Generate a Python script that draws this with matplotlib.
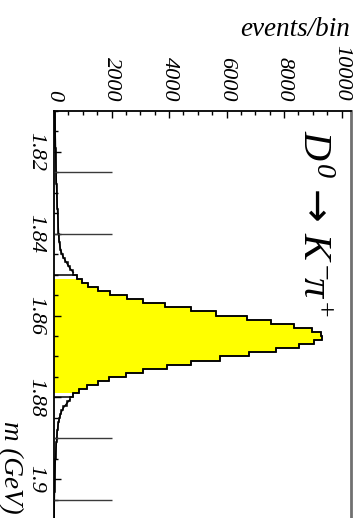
import numpy as np
import matplotlib
matplotlib.use("Agg")
import matplotlib.pyplot as plt
from matplotlib.ticker import MultipleLocator, FixedLocator

# ---------------- data ----------------
mass_lo = 1.81          # lower edge of first bin (GeV)
bin_width = 0.001       # GeV
counts = [
    35, 37, 39, 41, 43, 45, 47, 50, 52, 55,
    58, 61, 64, 67, 71, 75, 79, 83, 88, 93,
    98, 104, 110, 116, 123, 130, 137, 144, 150, 156,
    162, 175, 192, 218, 255, 305, 385, 470, 557, 672,
    789, 962, 1194, 1542, 1948, 2528, 3107, 3861, 4750, 5650,
    6700, 7560, 8360, 8970, 9290, 9310, 9050, 8520, 7720, 6790,
    5780, 4760, 3920, 3107, 2504, 1925, 1519, 1136, 881, 672,
    557, 441, 330, 260, 210, 175, 148, 128, 112, 100,
    90, 80, 70, 62, 54, 47, 41, 36, 31, 27,
    24, 21, 18, 16, 14, 12, 11, 10, 9, 9,
    8, 8, 7, 7, 6, 6, 6, 5, 5, 5,
]
signal_window = (1.851, 1.879)
sideband_edges = [1.825, 1.840, 1.890, 1.905]
sideband_marker_len = 2000
count_ticks = [0, 2000, 4000, 6000, 8000, 10000]
count_tick_labels = ["0", "2000", "4000", "6000", "8000", "10000"]
mass_ticks = [1.82, 1.84, 1.86, 1.88, 1.90]
mass_tick_labels = ["1.82", "1.84", "1.86", "1.88", "1.9"]
mass_range = (1.81, 1.92)
count_max = 10330

# ---------------- plotting ----------------
plt.rcParams["font.family"] = ["Liberation Serif", "DejaVu Serif"]
plt.rcParams["font.style"] = "italic"
plt.rcParams["mathtext.fontset"] = "custom"
plt.rcParams["mathtext.rm"] = "Liberation Serif"
plt.rcParams["mathtext.it"] = "Liberation Serif:italic"
plt.rcParams["mathtext.sf"] = "DejaVu Sans"
plt.rcParams["mathtext.fallback"] = "cm"

W, H = 360, 518
fig = plt.figure(figsize=(W / 100, H / 100), dpi=100)
ax_top, ax_bot = 110.75, 561.2
ax = fig.add_axes([54 / W, 1 - ax_bot / H, 297 / W, (ax_bot - ax_top) / H])

counts = np.asarray(counts, dtype=float)
edges = mass_lo + bin_width * np.arange(len(counts) + 1)
centers = 0.5 * (edges[:-1] + edges[1:])

i_lo = int(round((signal_window[0] - mass_lo) / bin_width))
i_hi = int(round((signal_window[1] - mass_lo) / bin_width))

# filled signal region
ax.stairs(counts[i_lo:i_hi], edges[i_lo:i_hi + 1], orientation="horizontal",
          fill=True, color="#ffff00", baseline=0, zorder=1)
# boxed outline around signal region (one extra bin each side)
ax.stairs(counts[i_lo - 1:i_hi + 1], edges[i_lo - 1:i_hi + 2], orientation="horizontal",
          baseline=0, color="black", lw=1.1, zorder=3)
# full histogram outline
ax.stairs(counts, edges, orientation="horizontal", baseline=None,
          color="black", lw=1.1, zorder=3)
# fit-like curve in the tails
tail = np.where((centers > signal_window[0] - bin_width) & (centers < signal_window[1] + bin_width),
                np.nan, counts)
ax.plot(tail, centers, color="black", lw=1.0, zorder=3)
# sideband markers
ax.hlines(sideband_edges, 0, sideband_marker_len, colors="#3a3a3a", lw=1.0, zorder=4)

ax.set_ylim(mass_range[1], mass_range[0])
ax.set_xlim(0, count_max)

ax.xaxis.set_major_locator(FixedLocator(count_ticks))
ax.set_xticklabels(count_tick_labels)
ax.xaxis.set_minor_locator(MultipleLocator(500))
ax.yaxis.set_major_locator(FixedLocator(mass_ticks))
ax.set_yticklabels(mass_tick_labels)
ax.yaxis.set_minor_locator(MultipleLocator(0.005))

ax.tick_params(axis="x", which="both", direction="in", top=True, bottom=False,
               labeltop=True, labelbottom=False, labelrotation=-90, labelsize=16, pad=7)
ax.tick_params(axis="y", which="both", direction="in", left=True, right=False,
               labelleft=True, labelrotation=-90, labelsize=16, pad=6.5)
ax.tick_params(which="major", length=5, width=1)
ax.tick_params(which="minor", length=3, width=1)
for lbl in ax.get_yticklabels():
    lbl.set_va("center")

for s in ("left", "top"):
    ax.spines[s].set_color("black")
    ax.spines[s].set_linewidth(1.3)
ax.spines["right"].set_color("#707070")
ax.spines["right"].set_linewidth(2.0)
ax.spines["bottom"].set_visible(False)

fig.text(350 / W, 1 - 36 / H, "events/bin", ha="right", va="baseline", fontsize=19.5)
fig.text(3.5 / W, 1 - 421 / H, "m (GeV)", rotation=-90, rotation_mode="anchor",
         ha="left", va="baseline", fontsize=19.5)
fig.text(303 / W, 1 - 130 / H, r"$D^{\mathit{0}}\,\mathsf{\rightarrow}\,K^{-}\!\pi^{+}$",
         rotation=-90, rotation_mode="anchor", ha="left", va="baseline", fontsize=29)

fig.savefig("out.png", dpi=100)
